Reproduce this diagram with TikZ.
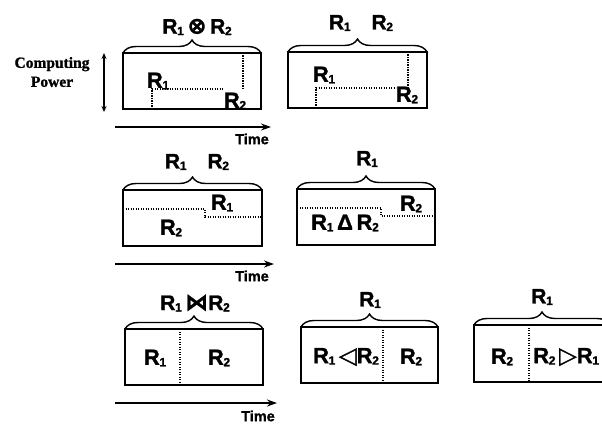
\documentclass[tikz,border=0pt]{standalone}
\usepackage{fontspec}
\setmainfont{Liberation Sans}[BoldFeatures={FakeBold=1.3}]
\newfontfamily\serifb{Liberation Serif}[BoldFeatures={FakeBold=1.2}]
\newfontfamily\symf{DejaVu Sans}[BoldFeatures={FakeBold=1.3}]
\usetikzlibrary{decorations.pathreplacing,arrows.meta}
\newcommand\Rn[1]{R\kern-0.3pt\raisebox{-1.5pt}{\fontsize{12}{12}\selectfont #1}}
\newcommand\op[1]{{\symf\bfseries\fontsize{23}{23}\selectfont #1}}
\begin{document}
\begin{tikzpicture}[x=1pt,y=-1pt,
  box/.style={draw, line width=1.5pt, inner sep=0pt, outer sep=0pt, anchor=north west},
  divider/.style={dash pattern=on 1.2pt off 1.3pt, line width=1.2pt},
  brc/.style={decorate, decoration={brace, amplitude=13pt, aspect=0.5}, line width=1.4pt},
  lbl/.style={inner sep=0pt, font=\bfseries\fontsize{21}{21}\selectfont},
  ilbl/.style={inner sep=0pt, font=\bfseries\fontsize{22}{22}\selectfont},
  timearrow/.style={line width=2.2pt, -{Stealth[length=10pt,width=7pt]}},
  timelbl/.style={inner sep=0pt, font=\bfseries\fontsize{14.5}{14.5}\selectfont},
  ]
\useasboundingbox (0,0) rectangle (602,426);
\fill[white] (0,0) rectangle (602,426);
\clip (0,0) rectangle (602,426);

% ---------- Row 1 ----------
\node[inner sep=0pt, align=center, font=\serifb\bfseries\fontsize{15.5}{19}\selectfont] (cp) at (52,72) {Computing\\Power};
\coordinate (cpT) at (104,53);
\coordinate (cpB) at (104,112);
\draw[line width=1.3pt, {Stealth[length=6pt,width=5pt]}-{Stealth[length=6pt,width=5pt]}] (cpT) -- (cpB);

\node[box, minimum width=138pt, minimum height=56pt] (A) at (123,53) {};
\draw[brc] (A.north west) -- (A.north east);
\node[lbl] (Alab) at (197,27) {\Rn1\,\op{⊗}\,\Rn2};
\draw[divider] (152,109) -- (152,89) -- (224,89);
\draw[divider] (243,89) -- (243,53);
\node[ilbl] (A1) at (158,81) {\Rn1};
\node[ilbl] (A2) at (235,101) {\Rn2};

\coordinate (t1a) at (115,127);
\coordinate (t1b) at (271,127);
\draw[timearrow] (t1a) -- (t1b);
\node[timelbl] (time1) at (252,139) {Time};

\node[box, minimum width=139pt, minimum height=56pt] (B) at (288,52) {};
\draw[brc] (B.north west) -- (B.north east);
\node[lbl] (Blab) at (361,23) {\Rn1\hspace{21pt}\Rn2};
\draw[divider] (316,108) -- (316,88) -- (396,88);
\draw[divider] (408,88) -- (408,52);
\node[ilbl] (B1) at (324,75) {\Rn1};
\node[ilbl] (B2) at (407,95) {\Rn2};

% ---------- Row 2 ----------
\node[box, minimum width=139pt, minimum height=56pt] (C) at (123,190) {};
\draw[brc] (C.north west) -- (C.north east);
\node[lbl] (Clab) at (197,162) {\Rn1\hspace{21pt}\Rn2};
\draw[divider] (123,209) -- (205,209) -- (205,217) -- (262,217);
\node[ilbl] (C1) at (222,203) {\Rn1};
\node[ilbl] (C2) at (171,228) {\Rn2};

\coordinate (t2a) at (115,264);
\coordinate (t2b) at (274,264);
\draw[timearrow] (t2a) -- (t2b);
\node[timelbl] (time2) at (252,276) {Time};

\node[box, minimum width=138pt, minimum height=56pt] (D) at (297,189) {};
\draw[brc] (D.north west) -- (D.north east);
\node[lbl] (Dlab) at (367,159) {\Rn1};
\draw[divider] (297,208) -- (381,208) -- (381,216) -- (435,216);
\node[ilbl] (D2) at (411,204) {\Rn2};
\node[ilbl] (D1) at (345,223) {\Rn1\,Δ\,\Rn2};

% ---------- Row 3 ----------
\node[box, minimum width=138pt, minimum height=56pt] (E) at (125,329) {};
\draw[brc] (E.north west) -- (E.north east);
\node[lbl] (Elab) at (195,303) {\Rn1\,\op{⋈}\Rn2};
\draw[divider] (180,329) -- (180,385);
\node[ilbl] (E1) at (155,358) {\Rn1};
\node[ilbl] (E2) at (219,358) {\Rn2};

\coordinate (t3a) at (115,403);
\coordinate (t3b) at (277,403);
\draw[timearrow] (t3a) -- (t3b);
\node[timelbl] (time3) at (258,416) {Time};

\node[box, minimum width=137pt, minimum height=56pt] (F) at (301,327) {};
\draw[brc] (F.north west) -- (F.north east);
\node[lbl] (Flab) at (370,300) {\Rn1};
\draw[divider] (383,327) -- (383,383);
\node[ilbl] (F1) at (346,357) {\Rn1\,\op{◁}\Rn2};
\node[ilbl] (F2) at (411,357) {\Rn2};

\node[box, minimum width=136pt, minimum height=57pt] (G) at (474,325) {};
\draw[brc] (G.north west) -- (G.north east);
\node[lbl] (Glab) at (542,297) {\Rn1};
\draw[divider] (529,325) -- (529,382);
\node[ilbl] (G1) at (502,357) {\Rn2};
\node[ilbl, anchor=west] (G2) at (533,357) {\Rn2\,\op{▷}\Rn1};
\end{tikzpicture}
\end{document}
